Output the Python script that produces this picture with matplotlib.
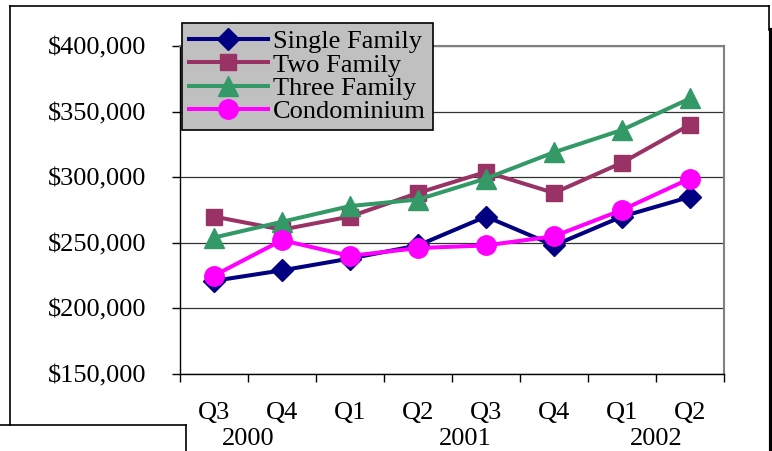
import matplotlib.pyplot as plt
from matplotlib.lines import Line2D
from matplotlib.ticker import FuncFormatter

# DATA
quarters = ['Q3', 'Q4', 'Q1', 'Q2', 'Q3', 'Q4', 'Q1', 'Q2']
years = ['2000', '2001', '2002']
year_pos = [0.5, 3.7, 6.5]
single_family = [221000, 229000, 238000, 248000, 270000, 248000, 270000, 285000]
two_family = [270000, 260000, 270000, 288000, 304000, 288000, 311000, 340000]
three_family = [254000, 266000, 278000, 283000, 299000, 319000, 336000, 360000]
condominium = [225000, 252000, 240000, 246000, 248000, 255000, 275000, 299000]

plt.rcParams['font.family'] = ['Liberation Serif', 'DejaVu Serif']
FS = 19

fig = plt.figure(figsize=(7.72, 4.51), dpi=100)
W, H = 772, 451
ax = fig.add_axes([180 / W, 1 - 374 / H, (724 - 180) / W, (374 - 46) / H])

x = range(len(quarters))
ax.plot(x, single_family, '-D', color='#000080', lw=2.9, ms=11, label='Single Family')
ax.plot(x, two_family, '-s', color='#993366', lw=2.9, ms=12, label='Two Family')
ax.plot(x, three_family, '-^', color='#339966', lw=2.9, ms=14, label='Three Family')
ax.plot(x, condominium, '-o', color='#FF00FF', lw=2.9, ms=14, label='Condominium')

ax.set_ylim(150000, 400000)
ax.set_yticks(range(150000, 400001, 50000))
ax.yaxis.set_major_formatter(FuncFormatter(lambda v, p: f'${v:,.0f}'))
ax.grid(axis='y', color='#333333', lw=0.9)
ax.set_axisbelow(True)
ax.tick_params(axis='y', direction='out', length=6, width=1, pad=18, labelsize=FS)

ax.set_xlim(-0.5, len(quarters) - 0.5)
ax.set_xticks([i - 0.5 for i in range(len(quarters) + 1)])
ax.set_xticklabels([])
ax.tick_params(axis='x', which='major', direction='out', length=6, width=1)
ax.set_xticks(list(x), minor=True)
ax.set_xticklabels(quarters, minor=True)
ax.tick_params(axis='x', which='minor', length=0, pad=20, labelsize=FS)
for xp, yr in zip(year_pos, years):
    ax.annotate(yr, (xp, 0), xycoords=('data', 'axes fraction'), xytext=(0, -47),
                textcoords='offset points', ha='center', va='center', fontsize=FS)

for s in ['left', 'bottom']:
    ax.spines[s].set_color('black')
    ax.spines[s].set_linewidth(1)
for s in ['top', 'right']:
    ax.spines[s].set_color('#808080')
    ax.spines[s].set_linewidth(1.5)

leg = ax.legend(loc='upper left', bbox_to_anchor=(182 / W, 1 - 23 / H),
                bbox_transform=fig.transFigure, borderaxespad=0, fontsize=FS,
                labelspacing=0.0, handlelength=3.0, handletextpad=0.2,
                borderpad=0.25, fancybox=False, framealpha=1)
leg.get_frame().set_facecolor('#C0C0C0')
leg.get_frame().set_edgecolor('black')
leg.get_frame().set_linewidth(1.2)


# screenshot frame lines
def fline(xs, ys, lw=1.2):
    fig.add_artist(Line2D([v / W for v in xs], [1 - v / H for v in ys],
                          color='black', lw=lw, transform=fig.transFigure))


fline([10, 769], [6, 6])
fline([10, 10], [6, 425])
fline([769, 769], [6, 30])
fline([770.5, 770.5], [30, 451], lw=3)
fline([0, 186], [425, 425])
fline([186, 186], [425, 451])

fig.savefig('out.png', dpi=100)
